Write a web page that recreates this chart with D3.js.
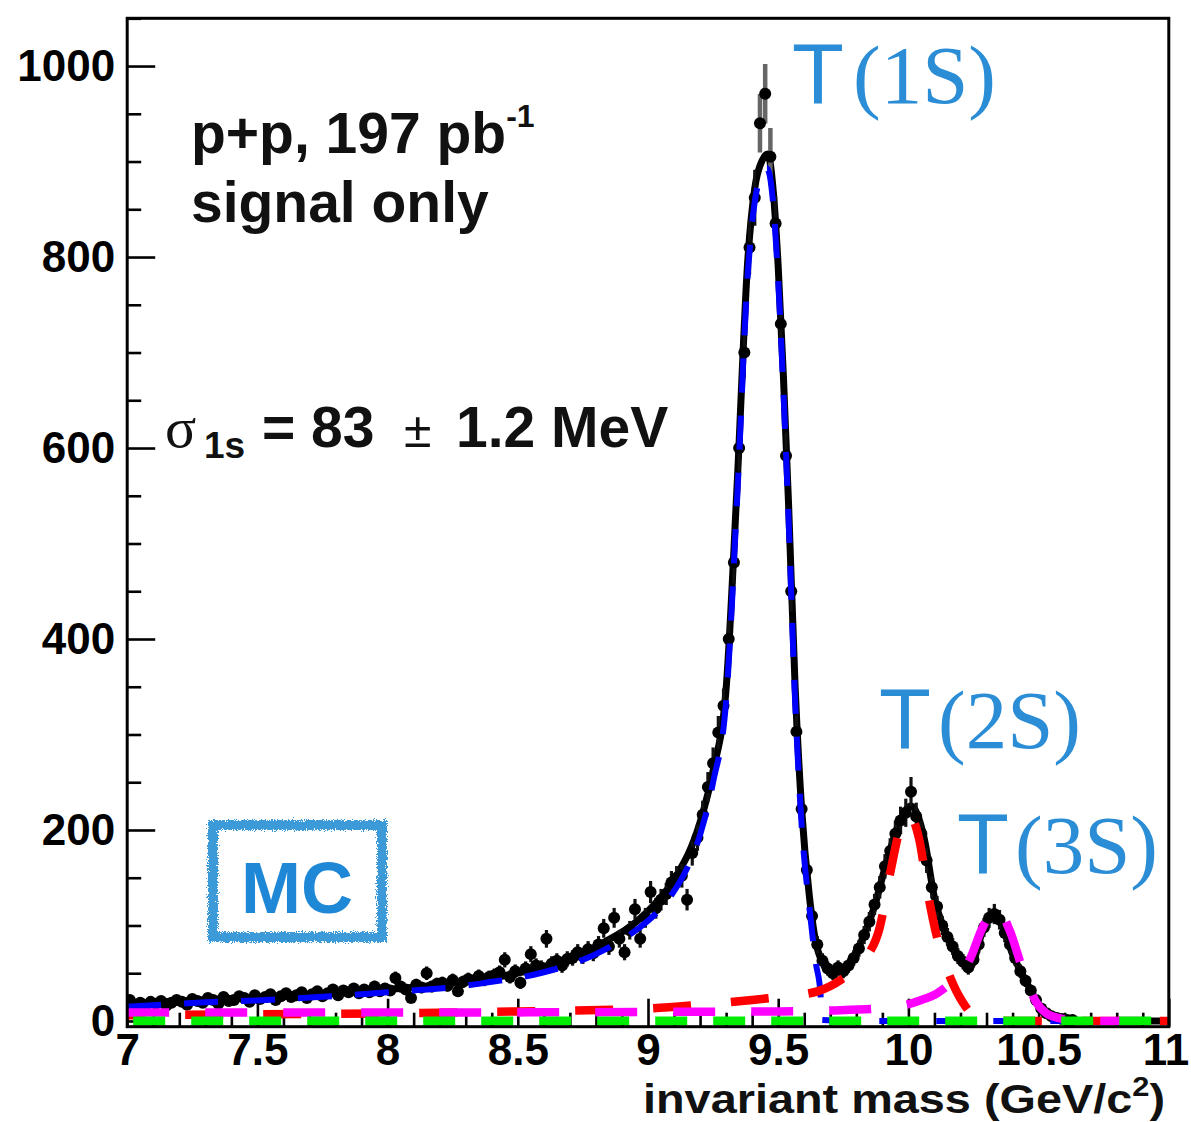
<!DOCTYPE html>
<html>
<head>
<meta charset="utf-8">
<script src="https://cdn.jsdelivr.net/npm/d3@7"></script>
<style>
  html, body { margin: 0; padding: 0; background: #ffffff; }
  svg { display: block; }
  text { font-family: "Liberation Sans", Arial, sans-serif; }
</style>
</head>
<body>
<svg id="chart" width="1191" height="1122"></svg>
<script>
// ---- histogram: dimuon invariant mass, 0.02 GeV bins from 7 to 11 GeV ----
const binLow = 7.0;
const binWidth = 0.02;
const counts = [
  22,17,19,16,20,18,21,16,19,22,
  20,17,23,21,19,24,22,18,25,21,
  22,26,24,20,27,23,25,28,22,26,
  29,25,27,30,24,28,31,26,29,33,
  27,32,30,34,29,33,30,36,31,34,
  32,45,36,33,24,38,35,50,36,39,
  40,37,43,31,41,44,42,47,43,46,
  48,51,64,46,52,40,55,70,58,56,
  86,60,63,58,65,66,72,68,75,71,
  80,97,78,108,86,72,95,117,86,108,
  135,118,127,133,145,150,152,127,176,192,
  216,245,270,302,330,400,480,600,700,810,
  862,940,971,905,835,730,592,450,303,222,
  158,110,80,63,55,50,56,52,58,66,
  76,90,104,122,140,162,178,196,210,218,
  240,214,196,168,140,120,100,88,78,68,
  62,56,64,80,98,108,112,106,92,80,
  66,52,42,32,22,13,8,5,3,2,
  1,1,0,0,0,0,0,0,0,0,
  0,0,0,0,0,0,0,0,0,0
];

// ---- fitted curves, sampled as [mass, counts] ----
const fitTotal = [
  [7.0,18],[7.2,21],[7.4,23.5],[7.6,26],[7.8,29],[8.0,33],[8.2,38],[8.4,45],[8.6,57],[8.8,78],
  [9.0,115],[9.1,148],[9.2,208],[9.25,262],[9.3,348],[9.342,560],[9.384,800],[9.41,872],[9.44,902],
  [9.46,908],[9.48,872],[9.5,790],[9.52,675],[9.54,540],[9.565,350],[9.59,222],[9.62,130],[9.645,82],
  [9.687,55],[9.72,51],[9.75,53],[9.815,81],[9.865,116],[9.918,168],[9.968,210],[10.01,225],
  [10.06,192],[10.1,129],[10.15,88],[10.2,63],[10.24,58],[10.28,90],[10.32,110],[10.35,106],
  [10.4,70],[10.47,32],[10.52,8],[10.58,2],[10.7,0],[11.0,0]
];
const fit1S = [
  [7.0,15],[7.1,16.5],[7.2,18],[7.3,19.5],[7.4,20.5],[7.5,21.5],[7.6,23],[7.7,24.5],[7.8,26],
  [7.9,28],[8.0,30],[8.1,32],[8.2,34],[8.3,37],[8.4,41],[8.5,45],[8.6,51],[8.7,59],[8.8,70],
  [8.9,85],[9.0,105],[9.05,118],[9.1,136],[9.15,160],[9.2,195],[9.25,250],[9.3,335],[9.342,545],
  [9.384,785],[9.41,858],[9.435,885],[9.457,893],[9.48,858],[9.5,775],[9.52,660],[9.54,525],
  [9.565,335],[9.59,205],[9.62,118],[9.645,60],[9.662,30],[9.668,1],[9.8,0],[11.0,0]
];
const fit2S = [
  [7.0,6],[7.5,7],[8.0,8],[8.5,10],[9.0,13],[9.2,17],[9.4,22],[9.5,25],[9.6,28],[9.65,31],
  [9.74,43],[9.84,67],[9.89,98],[9.93,155],[9.97,203],[10.0,217],[10.04,192],[10.08,126],
  [10.12,77],[10.16,46],[10.21,19],[10.26,4],[10.32,1],[10.4,0],[11.0,0]
];
const fit3S = [
  [7.0,9],[7.5,9],[8.0,9],[8.5,9],[9.0,9.5],[9.5,10],[9.7,11],[9.93,14],[10.05,22],[10.11,29],
  [10.17,42],[10.24,67],[10.28,95],[10.34,118],[10.39,94],[10.44,53],[10.49,20],[10.53,8],
  [10.58,3],[10.65,0],[11.0,0]
];
const fitBkg = [[7.0,0],[11.0,0]];

// ---- axis ticks ----
const xMajorTicks = [7, 7.5, 8, 8.5, 9, 9.5, 10, 10.5, 11];
const xTickLabels = ["7", "7.5", "8", "8.5", "9", "9.5", "10", "10.5", "11"];
const xMinorTicks = [7.1,7.2,7.3,7.4,7.6,7.7,7.8,7.9,8.1,8.2,8.3,8.4,8.6,8.7,8.8,8.9,9.1,9.2,9.3,9.4,
                     9.6,9.7,9.8,9.9,10.1,10.2,10.3,10.4,10.6,10.7,10.8,10.9];
const yMajorTicks = [0, 200, 400, 600, 800, 1000];
const yTickLabels = ["0", "200", "400", "600", "800", "1000"];
const yMinorTicks = [50,100,150,250,300,350,450,500,550,650,700,750,850,900,950,1050];

// ---- layout ----
const svg = d3.select("#chart");
const plot = { left: 127.2, right: 1168.8, top: 18.3, bottom: 1026.7 };

const x = d3.scaleLinear().domain([7, 11]).range([plot.left, plot.right]);
const y = d3.scaleLinear().domain([-6, 1050]).range([plot.bottom, plot.top]);

const defs = svg.append("defs");
defs.append("clipPath").attr("id", "plotClip")
  .append("rect")
  .attr("x", plot.left).attr("y", plot.top)
  .attr("width", plot.right - plot.left).attr("height", plot.bottom - plot.top);

// grainy, sprayed outline for the MC stamp
const rough = defs.append("filter").attr("id", "rough")
  .attr("x", "-10%").attr("y", "-10%").attr("width", "120%").attr("height", "120%");
rough.append("feTurbulence").attr("type", "fractalNoise").attr("baseFrequency", 0.9)
  .attr("numOctaves", 2).attr("seed", 3).attr("result", "noise");
rough.append("feDisplacementMap").attr("in", "SourceGraphic").attr("in2", "noise")
  .attr("scale", 8).attr("xChannelSelector", "R").attr("yChannelSelector", "G");

// ---- axes ----
const axisFont = "bold 44px 'Liberation Sans', Arial, sans-serif";

const yAxis = svg.append("g").attr("transform", `translate(${plot.left},0)`)
  .call(d3.axisLeft(y).tickValues(yMajorTicks).tickSize(-28).tickPadding(12)
    .tickFormat((d, i) => yTickLabels[i]));
yAxis.select(".domain").remove();
yAxis.selectAll(".tick line").attr("stroke", "#000").attr("stroke-width", 2.6);
yAxis.selectAll(".tick text").style("font", axisFont).attr("fill", "#000");

const yMinor = svg.append("g").attr("transform", `translate(${plot.left},0)`)
  .call(d3.axisLeft(y).tickValues(yMinorTicks).tickSize(-14).tickFormat(""));
yMinor.select(".domain").remove();
yMinor.selectAll(".tick line").attr("stroke", "#000").attr("stroke-width", 2.6);

const xAxis = svg.append("g").attr("transform", `translate(0,${plot.bottom})`)
  .call(d3.axisBottom(x).tickValues(xMajorTicks).tickSize(-28).tickPadding(7)
    .tickFormat((d, i) => xTickLabels[i]));
xAxis.select(".domain").remove();
xAxis.selectAll(".tick line").attr("stroke", "#000").attr("stroke-width", 2.6);
xAxis.selectAll(".tick text").style("font", axisFont).attr("fill", "#000");
// last label is pulled in so it stays inside the canvas
xAxis.selectAll(".tick text").filter(d => d === 11)
  .attr("text-anchor", "end").attr("x", 20);

const xMinor = svg.append("g").attr("transform", `translate(0,${plot.bottom})`)
  .call(d3.axisBottom(x).tickValues(xMinorTicks).tickSize(-14).tickFormat(""));
xMinor.select(".domain").remove();
xMinor.selectAll(".tick line").attr("stroke", "#000").attr("stroke-width", 2.6);

// ---- data points with Poisson error bars ----
const points = counts.map((c, i) => ({ m: binLow + binWidth * (i + 0.5), c }))
  .filter(d => d.c > 0);

const layer = svg.append("g").attr("clip-path", "url(#plotClip)");

// fit total sits beneath the markers
layer.append("path").datum(fitTotal)
  .attr("d", d3.line().x(d => x(d[0])).y(d => y(d[1])).curve(d3.curveMonotoneX))
  .attr("fill", "none").attr("stroke", "#000").attr("stroke-width", 7)
  .attr("stroke-linejoin", "round");

layer.append("g").selectAll("line").data(points).join("line")
  .attr("x1", d => x(d.m)).attr("x2", d => x(d.m))
  .attr("y1", d => y(d.c + Math.sqrt(d.c))).attr("y2", d => y(d.c - Math.sqrt(d.c)))
  .attr("stroke", d => d.c > 900 ? "#666" : "#111")
  .attr("stroke-width", d => d.c > 900 ? 4.5 : 3.2);

layer.append("g").selectAll("circle").data(points).join("circle")
  .attr("cx", d => x(d.m)).attr("cy", d => y(d.c)).attr("r", 6)
  .attr("fill", "#000");

// ---- component curves ----
const line = d3.line().x(d => x(d[0])).y(d => y(d[1])).curve(d3.curveMonotoneX);

layer.append("path").datum(fit1S).attr("d", line)
  .attr("fill", "none").attr("stroke", "#0000ff").attr("stroke-width", 6)
  .attr("stroke-dasharray", "34 23");
layer.append("path").datum(fit2S).attr("d", line)
  .attr("fill", "none").attr("stroke", "#ff0000").attr("stroke-width", 8.5)
  .attr("stroke-dasharray", "38 40").attr("stroke-dashoffset", 20);
layer.append("path").datum(fit3S).attr("d", line)
  .attr("fill", "none").attr("stroke", "#ff00ff").attr("stroke-width", 8.5)
  .attr("stroke-dasharray", "42 36");
layer.append("path").datum(fitBkg).attr("d", line)
  .attr("fill", "none").attr("stroke", "#00ee00").attr("stroke-width", 9)
  .attr("stroke-dasharray", "32 26").attr("stroke-dashoffset", -6);

// ---- frame ----
svg.append("rect")
  .attr("x", plot.left).attr("y", plot.top)
  .attr("width", plot.right - plot.left).attr("height", plot.bottom - plot.top)
  .attr("fill", "none").attr("stroke", "#000").attr("stroke-width", 3);

// ---- axis title ----
const xTitle = svg.append("text")
  .attr("x", 643).attr("y", 1113)
  .attr("textLength", 522).attr("lengthAdjust", "spacingAndGlyphs")
  .style("font", "bold 41px 'Liberation Sans', Arial, sans-serif").attr("fill", "#111");
xTitle.append("tspan").text("invariant mass (GeV/c");
xTitle.append("tspan").attr("dy", -17).style("font-size", "27px").text("2");
xTitle.append("tspan").attr("dy", 17).text(")");

// ---- annotations ----
const bold56 = "bold 57px 'Liberation Sans', Arial, sans-serif";
const run = svg.append("text").attr("x", 191).attr("y", 153)
  .style("font", bold56).attr("fill", "#111");
run.append("tspan").text("p+p, 197 pb");
run.append("tspan").attr("dy", -26).style("font-size", "32px").text("-1");
svg.append("text").attr("x", 191).attr("y", 222)
  .style("font", bold56).attr("fill", "#111").text("signal only");

// mass resolution
svg.append("text").attr("x", 165).attr("y", 447)
  .style("font", "58px 'Liberation Serif', 'Times New Roman', serif").attr("fill", "#111").text("σ");
svg.append("text").attr("x", 204).attr("y", 458)
  .style("font", "bold 37px 'Liberation Sans', Arial, sans-serif").attr("fill", "#111").text("1s");
svg.append("text").attr("x", 262).attr("y", 447)
  .style("font", bold56).attr("fill", "#111").text("= 83");
svg.append("text").attr("x", 404).attr("y", 447)
  .style("font", "50px 'Liberation Sans', Arial, sans-serif").attr("fill", "#111").text("±");
svg.append("text").attr("x", 456).attr("y", 447)
  .style("font", bold56).attr("fill", "#111").text("1.2 MeV");

// resonance labels
const stateColor = "#2a8dd6";
const states = [
  { name: "(1S)", tx: 792, px: 853, base: 103 },
  { name: "(2S)", tx: 879, px: 938, base: 748 },
  { name: "(3S)", tx: 957, px: 1015, base: 873 }
];
states.forEach(s => {
  svg.append("text").attr("x", s.tx).attr("y", s.base)
    .style("font", "85px 'Liberation Sans', Arial, sans-serif").attr("fill", stateColor).text("T");
  svg.append("text").attr("x", s.px).attr("y", s.base)
    .style("font", "83px 'Liberation Serif', 'Times New Roman', serif").attr("fill", stateColor).text(s.name);
});

// MC stamp
svg.append("rect").attr("x", 213).attr("y", 825).attr("width", 169).attr("height", 112)
  .attr("fill", "none").attr("stroke", "#3d9ad9").attr("stroke-width", 10)
  .attr("filter", "url(#rough)");
svg.append("text").attr("x", 297).attr("y", 913).attr("text-anchor", "middle")
  .style("font", "bold 72px 'Liberation Sans', Arial, sans-serif").attr("fill", "#1f88d6").text("MC");
</script>
</body>
</html>
